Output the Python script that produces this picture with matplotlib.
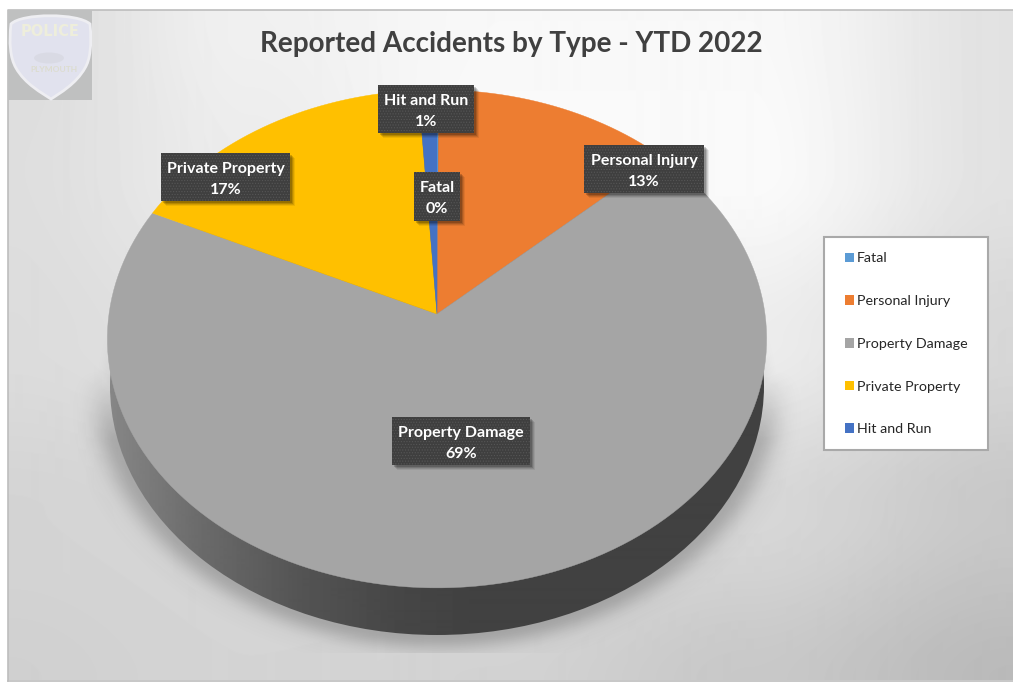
import numpy as np
import matplotlib
matplotlib.use("Agg")
import matplotlib.pyplot as plt
from matplotlib.patches import Patch, PathPatch, Rectangle, Polygon, Ellipse
from matplotlib.path import Path

categories = ["Fatal", "Personal Injury", "Property Damage", "Private Property", "Hit and Run"]
values = [0.1, 13, 69, 17, 1]
colors = ["#5B9BD5", "#ED7D31", "#A5A5A5", "#FFC000", "#4472C4"]
title = "Reported Accidents by Type - YTD 2022"

plt.rcParams["font.family"] = ["Lato", "DejaVu Sans"]
plt.rcParams["hatch.linewidth"] = 0.5

W, H = 1013, 683
fig = plt.figure(figsize=(W / 100, H / 100), dpi=100, facecolor="white")
ax = fig.add_axes([0, 0, 1, 1])
ax.axis("off")

# ---- page background (soft gradient inside a thin grey frame)
frame = (7.5, 9.5, 1013, 680.5)
bg = np.array([
    [220, 240, 248, 248, 226],
    [222, 236, 250, 250, 226],
    [220, 226, 236, 236, 215],
    [212, 215, 220, 215, 200],
    [208, 212, 210, 200, 186],
], float)
gx = np.array([10, 250, 500, 750, 1010.0])
gy = np.array([10, 170, 340, 510, 680.0])
X, Y = np.meshgrid(np.arange(W) + 0.5, np.arange(H) + 0.5)
ix = np.clip(np.searchsorted(gx, X) - 1, 0, 3)
iy = np.clip(np.searchsorted(gy, Y) - 1, 0, 3)
tx = np.clip((X - gx[ix]) / (gx[ix + 1] - gx[ix]), 0, 1)
ty = np.clip((Y - gy[iy]) / (gy[iy + 1] - gy[iy]), 0, 1)
tx = tx * tx * (3 - 2 * tx)
ty = ty * ty * (3 - 2 * ty)
bgim = (bg[iy, ix] * (1 - tx) * (1 - ty) + bg[iy, ix + 1] * tx * (1 - ty)
        + bg[iy + 1, ix] * (1 - tx) * ty + bg[iy + 1, ix + 1] * tx * ty)
im = ax.imshow(bgim, cmap="gray", vmin=0, vmax=255, extent=(0, W, H, 0),
               aspect="auto", interpolation="bilinear", zorder=0)
im.set_clip_path(Rectangle((frame[0], frame[1]), frame[2] - frame[0], frame[3] - frame[1],
                           transform=ax.transData))
ax.plot([frame[0], frame[0], W], [frame[3], frame[1], frame[1]], color="#bdbdbd", lw=1.2, zorder=1)
ax.plot([frame[0], W], [frame[3], frame[3]], color="#bdbdbd", lw=1.2, zorder=1)

# ---- faded police badge
ax.add_patch(Rectangle((8, 10), 84, 90, fc="#bfc0c0", ec="none", zorder=2))
badge = Path(
    [(11, 24), (22, 13), (78, 13), (90, 24),
     (92, 45), (90, 60), (85, 68),
     (76, 84), (60, 93), (51, 99),
     (42, 93), (25, 84), (16, 68),
     (10, 58), (9, 42), (11, 24), (11, 24)],
    [Path.MOVETO, Path.CURVE4, Path.CURVE4, Path.CURVE4,
     Path.CURVE4, Path.CURVE4, Path.CURVE4,
     Path.CURVE4, Path.CURVE4, Path.CURVE4,
     Path.CURVE4, Path.CURVE4, Path.CURVE4,
     Path.CURVE4, Path.CURVE4, Path.CURVE4, Path.CLOSEPOLY])
ax.add_patch(PathPatch(badge, fc="#e1e2ee", ec="#eeeef2", lw=2.0, zorder=3))
ax.text(50, 32, "POLICE", family=["Liberation Sans Narrow", "DejaVu Sans"], fontsize=10.5,
        color="#eeeedb", weight="bold", ha="center", va="center", zorder=4)
ax.add_patch(Ellipse((49, 58), 30, 11, fc="#d8d9e2", ec="none", alpha=0.8, zorder=4))
ax.text(54, 69, "PLYMOUTH", fontsize=6, color="#dcdccf", weight="bold", ha="center", va="center", zorder=4)

# ---- perspective projection of the pie disc
apex_x, apex_y = 437.0, 314.0
k = 0.1
sx, sy = 328.0, 246.5


def project(theta):
    """theta: clockwise angle from the top of the disc (radians)."""
    u, v = np.sin(theta), np.cos(theta)
    den = 1 + k * v
    return apex_x + sx * u / den, apex_y - sy * v / den


# lower rim of the disc
rim_cx, rim_cy, rim_rx, rim_ry = 437.0, 386.0, 327.0, 249.0

# shadow under the disc
r = np.hypot((X - rim_cx) / rim_rx, (Y - rim_cy) / rim_ry)
d = np.clip(r - 1, 0, None) * 285
halo = 0.22 * np.exp(-(d / 18.0) ** 2)
halo *= np.clip((Y - 370) / 70.0, 0, 1)
edge = 335 + np.clip(Y - 330, 0, None) * 0.14
band = 0.05 * np.clip((edge - np.abs(X - rim_cx)) / 14.0, 0, 1) * np.clip((Y - 320) / 60.0, 0, 1)
band *= np.clip(1 - d / 45.0, 0, 1)
alpha = np.maximum(halo, band)
alpha = np.where(Y < 653, np.where((Y > 300), alpha, 0), 0)
rgba = np.zeros((H, W, 4))
rgba[..., 3] = alpha
ax.imshow(rgba, extent=(0, W, H, 0), aspect="auto", interpolation="bilinear", zorder=5)

# side wall of the disc
side = np.interp(np.arange(W), [105, 200, 300, 400, 480, 800], [136, 107, 84, 70, 65, 65])
sim = ax.imshow(side[None, :], cmap="gray", vmin=0, vmax=255, extent=(0, W, H, 0),
                aspect="auto", interpolation="bilinear", zorder=6)
sim.set_clip_path(Ellipse((rim_cx, rim_cy), 2 * rim_rx, 2 * rim_ry, transform=ax.transData))

# slices, clockwise from the top
fractions = np.array(values, float) / np.sum(values)
edges = np.concatenate([[0], np.cumsum(fractions)]) * 2 * np.pi
for i, c in enumerate(colors):
    t = np.linspace(edges[i], edges[i + 1], max(3, int(200 * fractions[i]) + 3))
    px, py = project(t)
    pts = np.column_stack([np.r_[apex_x, px], np.r_[apex_y, py]])
    ax.add_patch(Polygon(pts, closed=True, fc=c, ec=c, lw=0.3, zorder=7))

# ---- data labels
box_pos = {
    "Fatal": (414, 172, 46, 49),
    "Personal Injury": (584, 145, 120, 48),
    "Property Damage": (392, 417, 138, 48),
    "Private Property": (161, 153, 129, 48),
    "Hit and Run": (378, 85, 96, 48),
}
for name, v in zip(categories, values):
    bx, by, bw, bh = box_pos[name]
    for off, a in [(5, 0.07), (4, 0.1), (3, 0.14), (2, 0.18)]:
        ax.add_patch(Rectangle((bx + off, by + off), bw, bh, fc="black", ec="none", alpha=a, zorder=8))
    ax.add_patch(Rectangle((bx, by), bw, bh, fc="#3f3f3f", ec="#565656", lw=0, hatch="......", zorder=9))
    cx = bx + bw / 2
    ax.text(cx, by + 16, name, color="white", weight="bold", fontsize=11.5,
            ha="center", va="center", zorder=10)
    ax.text(cx, by + 37, f"{round(v)}%", color="white", weight="bold", fontsize=11.5,
            ha="center", va="center", zorder=10)

# ---- title
ax.text(511, 44, title, color="#404040", weight="bold", fontsize=20.1,
        ha="center", va="center", zorder=10)

# ---- legend
ax.add_patch(Rectangle((823.5, 236.5), 164, 213.5, fc="white", ec="#a9a9a9", lw=1.5, zorder=11))
handles = [Patch(fc=c, ec="none", label=n) for c, n in zip(colors, categories)]
leg = ax.legend(handles=handles, loc="upper left", bbox_to_anchor=(845, 252.5),
                bbox_transform=ax.transData, borderaxespad=0, frameon=False, fontsize=10.25,
                labelspacing=2.155, handlelength=0.65, handleheight=0.65, handletextpad=0.2,
                borderpad=0, labelcolor="#262626")
leg.set_zorder(12)

ax.set_xlim(0, W)
ax.set_ylim(H, 0)
fig.savefig("out.png", dpi=100, facecolor="white")
